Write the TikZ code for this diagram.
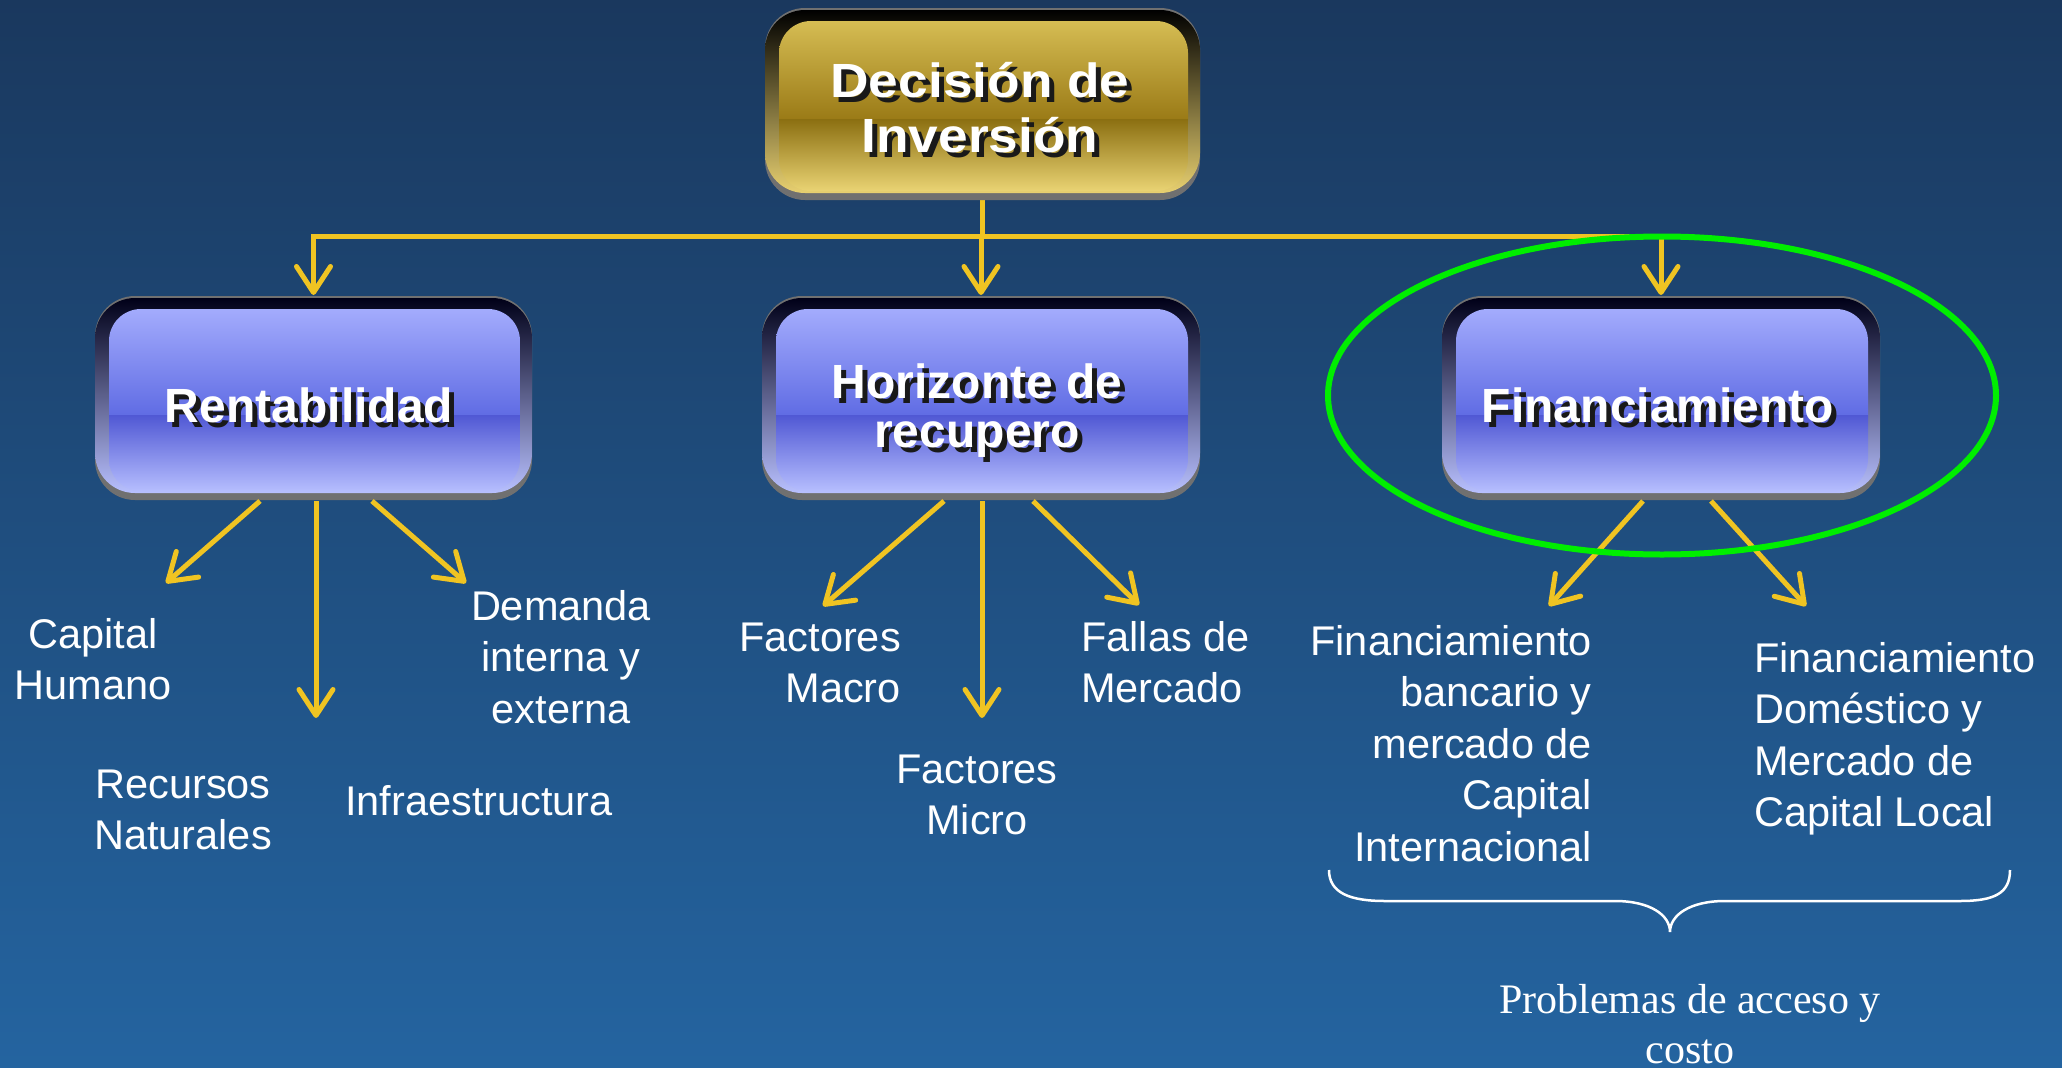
\documentclass[tikz,border=0pt]{standalone}
\usepackage{fontspec}
\setmainfont{Liberation Sans}
\newfontfamily\timesbt{Liberation Serif}
\newfontfamily\widebt[FakeStretch=1.11]{Liberation Sans}
\usetikzlibrary{arrows.meta,shapes.geometric,calc}

\definecolor{bgtop}{RGB}{26,56,94}
\definecolor{bgbot}{RGB}{36,100,160}
\definecolor{arrowyel}{RGB}{240,196,34}
\definecolor{hlgreen}{RGB}{0,238,0}
\definecolor{shgray}{RGB}{112,112,112}
% blue box palette
\definecolor{bOa}{RGB}{0,0,24}
\definecolor{bOb}{RGB}{22,34,156}
\definecolor{bOc}{RGB}{184,192,255}
\definecolor{bIa}{RGB}{170,178,255}
\definecolor{bIb}{RGB}{96,108,228}
\definecolor{bIc}{RGB}{80,88,212}
\definecolor{bId}{RGB}{184,192,255}
% gold box palette
\definecolor{gOa}{RGB}{0,0,0}
\definecolor{gOb}{RGB}{120,94,10}
\definecolor{gOc}{RGB}{232,208,112}
\definecolor{gIa}{RGB}{220,196,90}
\definecolor{gIb}{RGB}{154,122,22}
\definecolor{gIc}{RGB}{140,112,18}
\definecolor{gId}{RGB}{236,214,118}

\newcommand\lnsC[1]{\vtop{\halign{\hfil##\hfil\cr#1\crcr}}}
\newcommand\lnsR[1]{\vtop{\halign{\hfil##\cr#1\crcr}}}
\newcommand\lnsL[1]{\vtop{\halign{##\hfil\cr#1\crcr}}}
\newcommand\shadowtxt[1]{\rlap{\kern5pt\lower5pt\hbox{\color{black!90}#1}}#1}

\newcommand\glossbox[2]{%
  \fill[shgray, rounded corners=40pt] ([yshift=2pt]#1.north west) rectangle ([yshift=-7pt]#1.south east);
  \shade[rounded corners=40pt, top color=#2Oa, middle color=#2Ob, bottom color=#2Oc] (#1.north west) rectangle (#1.south east);
  \begin{scope}
    \clip[rounded corners=32pt] ([xshift=14pt,yshift=-11pt]#1.north west) rectangle ([xshift=-12pt,yshift=2pt]#1.south east);
    \shade[top color=#2Ia, bottom color=#2Ib] (#1.north west) rectangle ($(#1.north east)!0.6!(#1.south east)$);
    \shade[top color=#2Ic, bottom color=#2Id] ($(#1.north west)!0.6!(#1.south west)$) rectangle (#1.south east);
  \end{scope}}

\tikzset{
  boxarea/.style={inner sep=0pt, outer sep=0pt, minimum height=195pt, minimum width=437pt},
  conn/.style={draw=arrowyel, line width=5pt},
  arr/.style={draw=arrowyel, line width=5pt, -{Straight Barb[length=26pt, width=34pt, round]}},
  txt/.style={text=white, inner sep=0pt, font=\fontsize{41.5pt}{51.5pt}\selectfont},
  boxtxt/.style={text=white, inner sep=0pt, anchor=base, font=\bfseries\fontsize{48pt}{55pt}\selectfont},
}

\begin{document}
\begin{tikzpicture}[x=1pt, y=-1pt]
\useasboundingbox (0,0) rectangle (2062,1068);
\shade[top color=bgtop, bottom color=bgbot] (0,0) rectangle (2062,1068);

% box areas
\node[boxarea, minimum width=435pt, minimum height=183pt] (dec) at (982.5,101.5) {};
\node[boxarea] (rent) at (313.5,395.5) {};
\node[boxarea, minimum width=438pt] (hor) at (981,395.5) {};
\node[boxarea, minimum width=438pt] (fin) at (1661,395.5) {};

% connectors from the top box
\coordinate (hy) at (0,236);
\draw[conn] (dec.south) -- (dec.south |- hy);
\draw[arr] (fin.north |- hy) -- (rent.north |- hy) -- ([yshift=3pt]rent.north);
\draw[arr] (hor.north |- hy) -- ([yshift=3pt]hor.north);
\draw[arr] (fin.north |- hy) -- ([yshift=3pt]fin.north);

% boxes
\glossbox{dec}{g}
\glossbox{rent}{b}
\glossbox{hor}{b}
\glossbox{fin}{b}

% box labels (with drop shadow)
\node[boxtxt, font=\widebt\bfseries\fontsize{48pt}{55pt}\selectfont] (decT) at (980,97) {\shadowtxt{\lnsC{Decisi\'on de\cr Inversi\'on}}};
\node[boxtxt] (rentT) at (309,422) {\shadowtxt{Rentabilidad}};
\node[boxtxt, font=\bfseries\fontsize{48pt}{49pt}\selectfont] (horT) at (977,398) {\shadowtxt{\lnsC{Horizonte de\cr recupero}}};
\node[boxtxt] (finT) at (1658,422) {\shadowtxt{Financiamiento}};

% arrow end points
\coordinate (rL) at (166,583);
\coordinate (rD) at (316,718);
\coordinate (rR) at (466,583);
\coordinate (hL) at (823,606);
\coordinate (hD) at (982,718);
\coordinate (hR) at (1139,605);
\coordinate (fL) at (1549,606);
\coordinate (fR) at (1806,606);

\draw[arr] ([xshift=-53.5pt,yshift=-8pt]rent.south) -- (rL);
\draw[arr] ([xshift=2.5pt,yshift=-8pt]rent.south) -- (rD);
\draw[arr] ([xshift=58.5pt,yshift=-8pt]rent.south) -- (rR);
\draw[arr] ([xshift=-37pt,yshift=-8pt]hor.south) -- (hL);
\draw[arr] ([xshift=1pt,yshift=-8pt]hor.south) -- (hD);
\draw[arr] ([xshift=52pt,yshift=-8pt]hor.south) -- (hR);
\draw[arr] ([xshift=-18pt,yshift=-8pt]fin.south) -- (fL);
\draw[arr] ([xshift=50pt,yshift=-8pt]fin.south) -- (fR);

% highlight ellipse
\node[ellipse, draw=hlgreen, line width=6pt, minimum width=668pt, minimum height=318pt, inner sep=0pt] (hl) at (1662,395.5) {};

% leaf texts
\node[txt, anchor=base] (capital) at (93,648) {\lnsC{Capital\cr Humano}};
\node[txt, anchor=base] (recursos) at (183,798) {\lnsC{Recursos\cr Naturales}};
\node[txt, anchor=base] (infra) at (479,815) {Infraestructura};
\node[txt, anchor=base] (demanda) at (561,620) {\lnsC{Demanda\cr interna y\cr externa}};
\node[txt, anchor=base east] (macro) at (901,651) {\lnsR{Factores\cr Macro}};
\node[txt, anchor=base] (micro) at (977,783) {\lnsC{Factores\cr Micro}};
\node[txt, anchor=base west] (fallas) at (1081,651) {\lnsL{Fallas de\cr Mercado}};
\node[txt, anchor=base east] (finint) at (1592,655) {\lnsR{Financiamiento\cr bancario y\cr mercado de\cr Capital\cr Internacional}};
\node[txt, anchor=base west] (findom) at (1754,672) {\lnsL{Financiamiento\cr Dom\'estico y\cr Mercado de\cr Capital Local}};

% brace
\coordinate (brL) at (1329,870);
\coordinate (brT) at (1670,932);
\coordinate (brR) at (2010,870);
\draw[white, line width=2.5pt] (brL) .. controls (1329,893) and (1350,901) .. (1385,901) -- (1615,901)
  .. controls (1650,901) and (1670,915) .. (brT)
  .. controls (1670,915) and (1690,901) .. (1725,901) -- (1960,901)
  .. controls (1995,901) and (2010,893) .. (brR);

\node[anchor=base, text=white, inner sep=0pt, font=\timesbt\fontsize{42pt}{50pt}\selectfont] (prob) at (1690,1013) {\lnsC{Problemas de acceso y\cr costo}};
\end{tikzpicture}
\end{document}
